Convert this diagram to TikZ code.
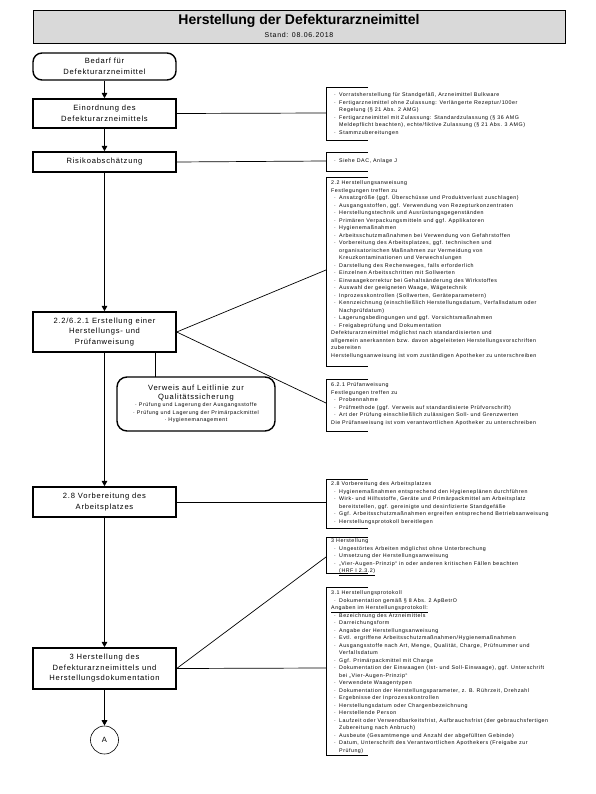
\documentclass[tikz,border=0pt]{standalone}
\usepackage{fontspec}
\setmainfont{Liberation Sans}
\newfontfamily\spaced[LetterSpace=10]{Liberation Sans}
\usetikzlibrary{positioning, arrows.meta, calc}

\definecolor{titleGray}{HTML}{D9D9D9}
\newcommand{\boxfnt}{\spaced\fontsize{7.6}{10.5}\selectfont}
\newcommand{\notefnt}{\spaced\fontsize{5.3}{7.5}\selectfont}
\newcommand{\listfnt}{\spaced\fontsize{5.3}{7.5}\selectfont}
\newcommand{\bul}{\hspace*{3pt}\makebox[5pt][l]{·}}
\newcommand{\cont}{\hspace*{8pt}}

\begin{document}
\begin{tikzpicture}[x=1pt, y=-1pt,
  stepbox/.style={draw, line width=1.4pt, minimum width=143pt, align=center, font=\boxfnt, inner sep=2pt},
  flow/.style={-{Triangle[length=5.5pt, width=5.5pt]}, line width=1.4pt},
  conn/.style={line width=0.7pt},
  bracket/.style={line width=0.9pt},
  note/.style={anchor=north west, inner sep=0pt, align=left, font=\notefnt}]

\useasboundingbox (0,0) rectangle (595,794);

% header
\draw[fill=titleGray, line width=0.6pt] (33,10) rectangle (565,43);
\node[font=\bfseries\fontsize{14}{16}\selectfont] (title) at (299,21) {Herstellung der Defekturarzneimittel};
\node[font=\spaced\fontsize{7}{9}\selectfont] (stand) at (299,35) {Stand: 08.06.2018};

% main column
\node[stepbox, rounded corners=9pt, minimum height=27pt] (bedarf) at (104.5,66.5) {Bedarf für\\Defekturarzneimittel};
\node[stepbox, minimum height=29pt] (einord) at (104.5,113.5) {Einordnung des\\Defekturarzneimittels};
\node[stepbox, minimum height=20pt] (risiko) at (104.5,162) {Risikoabschätzung};
\node[stepbox, minimum height=40pt] (anw) at (104.5,332) {2.2/6.2.1 Erstellung einer\\Herstellungs- und\\Prüfanweisung};
\node[stepbox, rounded corners=10pt, minimum width=158pt, minimum height=54pt, font=\spaced\fontsize{7.6}{9}\selectfont] (verweis) at (196,404)
  {Verweis auf Leitlinie zur\\Qualitätssicherung\\[-1.5pt]
   {\listfnt · Prüfung und Lagerung der Ausgangsstoffe}\\[-1.5pt]
   {\listfnt · Prüfung und Lagerung der Primärpackmittel}\\[-1.5pt]
   {\listfnt · Hygienemanagement}};
\node[stepbox, minimum height=30pt] (vorb) at (104.5,502) {2.8 Vorbereitung des\\Arbeitsplatzes};
\node[stepbox, minimum height=41pt] (herst) at (104.5,668.5) {3 Herstellung des\\Defekturarzneimittels und\\Herstellungsdokumentation};
\node[draw, circle, line width=0.6pt, minimum size=28pt, inner sep=0pt, font=\boxfnt] (conA) at (104.5,740) {A};

\draw[flow] (bedarf) -- (einord);
\draw[flow] (einord) -- (risiko);
\draw[flow] (risiko) -- (anw);
\draw[flow] (anw) -- (vorb);
\draw[flow] (vorb) -- (herst);
\draw[flow] (herst) -- (conA);

\coordinate (vtop) at (155,377);
\draw[conn, line width=0.8pt] (anw.south -| vtop) -- (vtop);

% brackets
\draw[bracket] (368,87) -- (326,87) -- (326,140) -- (368,140);
\draw[bracket] (368,152) -- (326,152) -- (326,171) -- (368,171);
\draw[bracket] (368,177) -- (326,177) -- (326,366) -- (368,366);
\draw[bracket] (368,379) -- (326,379) -- (326,431) -- (368,431);
\draw[bracket] (368,479) -- (326,479) -- (326,528) -- (368,528);
\draw[bracket] (368,537) -- (326,537) -- (326,573) -- (368,573);
\draw[bracket] (368,587) -- (326,587) -- (326,755) -- (368,755);

\coordinate (b1) at (326,113);
\coordinate (b2) at (326,161);
\coordinate (b3) at (326,270);
\coordinate (b4) at (326,403);
\coordinate (b5) at (326,502);
\coordinate (b6) at (326,557);
\coordinate (b7) at (326,668);

\draw[conn] (einord.east) -- (b1);
\draw[conn] (risiko.east) -- (b2);
\draw[conn] (anw.east) -- (b3);
\draw[conn] (anw.east) -- (b4);
\draw[conn] (vorb.east) -- (b5);
\draw[conn] (herst.east) -- (b6);
\draw[conn] (herst.east) -- (b7);

% notes
\node[note] (n1) at (331,92.5) {%
\bul Vorratsherstellung für Standgefäß, Arzneimittel Bulkware\\
\bul Fertigarzneimittel ohne Zulassung: Verlängerte Rezeptur/100er\\
\cont Regelung (§ 21 Abs. 2 AMG)\\
\bul Fertigarzneimittel mit Zulassung: Standardzulassung (§ 36 AMG\\
\cont Meldepflicht beachten), echte/fiktive Zulassung (§ 21 Abs. 3 AMG)\\
\bul Stammzubereitungen};

\node[note] (n2) at (331,158.5) {\bul Siehe DAC, Anlage J};

\node[note] (n3) at (331,180.5) {%
2.2 Herstellungsanweisung\\
Festlegungen treffen zu\\
\bul Ansatzgröße (ggf. Überschüsse und Produktverlust zuschlagen)\\
\bul Ausgangsstoffen, ggf. Verwendung von Rezepturkonzentraten\\
\bul Herstellungstechnik und Ausrüstungsgegenständen\\
\bul Primären Verpackungsmitteln und ggf. Applikatoren\\
\bul Hygienemaßnahmen\\
\bul Arbeitsschutzmaßnahmen bei Verwendung von Gefahrstoffen\\
\bul Vorbereitung des Arbeitsplatzes, ggf. technischen und\\
\cont organisatorischen Maßnahmen zur Vermeidung von\\
\cont Kreuzkontaminationen und Verwechslungen\\
\bul Darstellung des Rechenweges, falls erforderlich\\
\bul Einzelnen Arbeitsschritten mit Sollwerten\\
\bul Einwaagekorrektur bei Gehaltsänderung des Wirkstoffes\\
\bul Auswahl der geeigneten Waage, Wägetechnik\\
\bul Inprozesskontrollen (Sollwerten, Geräteparametern)\\
\bul Kennzeichnung (einschließlich Herstellungsdatum, Verfallsdatum oder\\
\cont Nachprüfdatum)\\
\bul Lagerungsbedingungen und ggf. Vorsichtsmaßnahmen\\
\bul Freigabeprüfung und Dokumentation\\
Defekturarzneimittel möglichst nach standardisierten und\\
allgemein anerkannten bzw. davon abgeleiteten Herstellungsvorschriften\\
zubereiten\\
Herstellungsanweisung ist vom zuständigen Apotheker zu unterschreiben};

\node[note] (n4) at (331,382.5) {%
6.2.1 Prüfanweisung\\
Festlegungen treffen zu\\
\bul Probennahme\\
\bul Prüfmethode (ggf. Verweis auf standardisierte Prüfvorschrift)\\
\bul Art der Prüfung einschließlich zulässigen Soll- und Grenzwerten\\
Die Prüfanweisung ist vom verantwortlichen Apotheker zu unterschreiben};

\node[note] (n5) at (331,481.5) {%
2.8 Vorbereitung des Arbeitsplatzes\\
\bul Hygienemaßnahmen entsprechend den Hygieneplänen durchführen\\
\bul Wirk- und Hilfsstoffe, Geräte und Primärpackmittel am Arbeitsplatz\\
\cont bereitstellen, ggf. gereinigte und desinfizierte Standgefäße\\
\bul Ggf. Arbeitsschutzmaßnahmen ergreifen entsprechend Betriebsanweisung\\
\bul Herstellungsprotokoll bereitlegen};

\node[note] (n6) at (331,538.5) {%
3 Herstellung\\
\bul Ungestörtes Arbeiten möglichst ohne Unterbrechung\\
\bul Umsetzung der Herstellungsanweisung\\
\bul „Vier-Augen-Prinzip“ in oder anderen kritischen Fällen beachten\\
\cont\underline{(HRF I 2.3.2)}};

\node[note] (n7) at (331,590.5) {%
3.1 Herstellungsprotokoll\\
\bul Dokumentation gemäß § 8 Abs. 2 ApBetrO\\
\underline{Angaben im Herstellungsprotokoll:}\\
\bul Bezeichnung des Arzneimittels\\
\bul Darreichungsform\\
\bul Angabe der Herstellungsanweisung\\
\bul Evtl. ergriffene Arbeitsschutzmaßnahmen/Hygienemaßnahmen\\
\bul Ausgangsstoffe nach Art, Menge, Qualität, Charge, Prüfnummer und\\
\cont Verfallsdatum\\
\bul Ggf. Primärpackmittel mit Charge\\
\bul Dokumentation der Einwaagen (Ist- und Soll-Einwaage), ggf. Unterschrift\\
\cont bei „Vier-Augen-Prinzip“\\
\bul Verwendete Waagentypen\\
\bul Dokumentation der Herstellungsparameter, z. B. Rührzeit, Drehzahl\\
\bul Ergebnisse der Inprozesskontrollen\\
\bul Herstellungsdatum oder Chargenbezeichnung\\
\bul Herstellende Person\\
\bul Laufzeit oder Verwendbarkeitsfrist, Aufbrauchsfrist (der gebrauchsfertigen\\
\cont Zubereitung nach Anbruch)\\
\bul Ausbeute (Gesamtmenge und Anzahl der abgefüllten Gebinde)\\
\bul Datum, Unterschrift des Verantwortlichen Apothekers (Freigabe zur\\
\cont Prüfung)};

\end{tikzpicture}
\end{document}
